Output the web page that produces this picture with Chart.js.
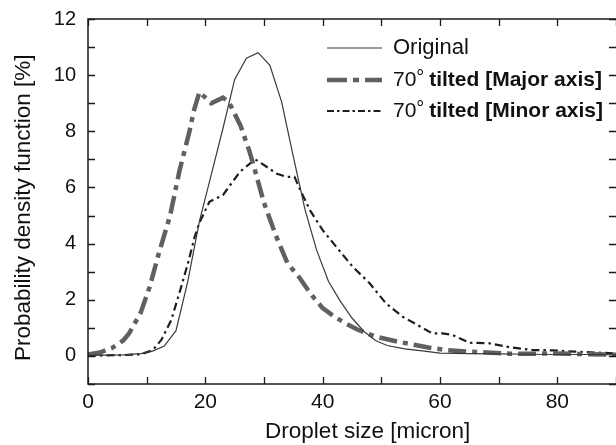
<!DOCTYPE html>
<html><head><meta charset="utf-8">
<script src="https://cdn.jsdelivr.net/npm/chart.js@4/dist/chart.umd.min.js"></script>
<style>html,body{margin:0;padding:0;background:#fff;overflow:hidden}</style>
</head><body>
<canvas id="c" width="616" height="445"></canvas>
<script>
const FONT = '"Liberation Sans",Arial,Helvetica,sans-serif';
const xTitle = 'Droplet size [micron]';
const yTitle = 'Probability density function [%]';
const seriesNames = ['Original', '70° tilted [Major axis]', '70° tilted [Minor axis]'];
const xRange = [0, 90];
const yRange = [-1, 12];

const originalX = [0, 3, 6, 9, 11, 13, 15, 17, 19, 21, 23, 25, 27, 29, 31, 33, 35, 37, 39, 41, 43, 45, 47, 49, 51, 54, 57, 60, 65, 70, 75, 80, 85, 90];
const originalY = [0.02, 0.03, 0.04, 0.08, 0.17, 0.35, 0.9, 2.65, 4.8, 6.45, 8.1, 9.85, 10.6, 10.8, 10.35, 9.05, 7.1, 5.2, 3.75, 2.65, 1.95, 1.35, 0.88, 0.55, 0.37, 0.25, 0.18, 0.1, 0.08, 0.07, 0.06, 0.05, 0.05, 0.04];

const majorX = [0, 2, 4, 6, 7, 9, 10.5, 12, 14, 15.6, 17.3, 18, 19, 21, 23, 24, 26, 27.5, 28, 30, 32, 34, 36, 38, 40, 42, 44, 46, 49, 53, 56, 58, 61, 65, 68, 72, 76, 80, 85, 90];
const majorY = [0.05, 0.12, 0.27, 0.55, 0.8, 1.55, 2.45, 3.6, 5.0, 6.6, 8.0, 8.7, 9.4, 9.0, 9.2, 9.05, 8.2, 7.3, 6.95, 5.45, 4.3, 3.3, 2.8, 2.2, 1.7, 1.4, 1.15, 0.93, 0.69, 0.5, 0.38, 0.3, 0.21, 0.15, 0.12, 0.08, 0.08, 0.09, 0.06, 0.04];

const minorX = [0, 3, 6, 9, 11, 12.5, 14.2, 15.9, 17.1, 18.2, 19, 20.7, 23, 25.9, 28.5, 30, 32.1, 33.8, 35.2, 36.1, 37.8, 40, 42.3, 45.1, 48, 50.8, 53.6, 56, 58.7, 60.4, 62.1, 65, 68.4, 71.8, 75.7, 79.1, 83.1, 88.8, 90];
const minorY = [0.0, 0.02, 0.03, 0.06, 0.2, 0.57, 1.28, 2.47, 3.35, 4.25, 4.75, 5.49, 5.73, 6.56, 7.0, 6.8, 6.5, 6.38, 6.38, 5.95, 5.2, 4.48, 3.89, 3.18, 2.59, 1.87, 1.4, 1.12, 0.8, 0.8, 0.75, 0.47, 0.45, 0.31, 0.21, 0.2, 0.15, 0.1, 0.08];

const pts = (xs, ys) => xs.map((x, i) => ({x, y: ys[i]}));

const frameTicks = {
  id: 'frameTicks',
  afterDatasetsDraw(chart) {
    const {ctx, chartArea: a, scales: {x, y}} = chart;
    ctx.save();
    ctx.strokeStyle = '#1a1a1a';
    ctx.lineWidth = 1.5;
    ctx.strokeRect(a.left, a.top, a.right - a.left + 1, a.bottom - a.top);
    ctx.lineWidth = 1.3;
    const L = 7;
    ctx.beginPath();
    y.ticks.forEach(t => {
      const py = Math.round(y.getPixelForValue(t.value)) + 0.5;
      ctx.moveTo(a.left, py); ctx.lineTo(a.left + L, py);
      ctx.moveTo(a.right, py); ctx.lineTo(a.right - L, py);
    });
    x.ticks.forEach(t => {
      const px = Math.round(x.getPixelForValue(t.value)) + 0.5;
      ctx.moveTo(px, a.bottom); ctx.lineTo(px, a.bottom - L);
      ctx.moveTo(px, a.top); ctx.lineTo(px, a.top + L);
    });
    ctx.stroke();
    ctx.restore();
  }
};

const legendRows = [48, 80, 111];
const customLegend = {
  id: 'customLegend',
  afterDraw(chart) {
    const ctx = chart.ctx;
    chart.data.datasets.forEach((d, i) => {
      const yy = legendRows[i];
      ctx.save();
      ctx.strokeStyle = d.borderColor;
      ctx.lineWidth = d.borderWidth;
      ctx.setLineDash(d.legendDash);
      ctx.beginPath(); ctx.moveTo(327, yy); ctx.lineTo(382, yy); ctx.stroke();
      ctx.setLineDash([]);
      ctx.fillStyle = '#111';
      ctx.textBaseline = 'middle';
      ctx.textAlign = 'left';
      const label = d.label;
      let xx = 393;
      const k = label.indexOf('°');
      if (k < 0) {
        ctx.font = `22px ${FONT}`;
        ctx.fillText(label, xx, yy);
      } else {
        const pre = label.slice(0, k), post = label.slice(k + 1);
        ctx.font = `21px ${FONT}`;
        ctx.fillText(pre, xx, yy);
        xx += ctx.measureText(pre).width;
        ctx.font = `20px ${FONT}`;
        ctx.fillText('°', xx, yy - 2);
        xx += ctx.measureText('°').width - 1;
        ctx.font = `bold 21px ${FONT}`;
        ctx.fillText(post, xx, yy);
      }
      ctx.restore();
    });
  }
};

new Chart(document.getElementById('c'), {
  type: 'line',
  data: {
    datasets: [
      {label: seriesNames[0], data: pts(originalX, originalY), borderColor: '#3a3a3a', borderWidth: 1.2, borderDash: [], legendDash: [], pointRadius: 0, tension: 0, fill: false},
      {label: seriesNames[1], data: pts(majorX, majorY), borderColor: '#606060', borderWidth: 4.5, borderDash: [18, 6, 5, 6], legendDash: [20, 6, 6, 6], pointRadius: 0, tension: 0, fill: false},
      {label: seriesNames[2], data: pts(minorX, minorY), borderColor: '#1e1e1e', borderWidth: 2.2, borderDash: [8, 4, 2.5, 4], legendDash: [7, 3, 2.5, 3], pointRadius: 0, tension: 0, fill: false}
    ]
  },
  options: {
    responsive: false,
    devicePixelRatio: 1,
    animation: false,
    layout: {padding: {top: 19, right: 0, left: 0, bottom: 0}},
    plugins: {legend: {display: false}, tooltip: {enabled: false}},
    scales: {
      x: {
        type: 'linear', min: xRange[0], max: xRange[1],
        grid: {display: false, drawTicks: false, drawOnChartArea: false},
        border: {display: false},
        ticks: {stepSize: 10, autoSkip: false, maxRotation: 0, padding: 6, color: '#111',
          font: {family: FONT, size: 21},
          callback: v => (v % 20 === 0 ? String(v) : '')},
        title: {display: true, text: '     ' + xTitle, color: '#111', font: {family: FONT, size: 22.5}, padding: 0},
        afterFit: s => { s.height = 61; s.paddingLeft = 0; s.paddingRight = 0; }
      },
      y: {
        type: 'linear', min: yRange[0], max: yRange[1],
        grid: {display: false, drawTicks: false, drawOnChartArea: false},
        border: {display: false},
        ticks: {stepSize: 1, autoSkip: false, padding: 12, color: '#111',
          font: {family: FONT, size: 20},
          callback: v => (v % 2 === 0 ? String(v) : '')},
        title: {display: true, text: yTitle + '  ', color: '#111', font: {family: FONT, size: 22.5}, padding: {top: 10, bottom: 0}},
        afterFit: s => { s.width = 88; s.paddingTop = 0; s.paddingBottom = 0; }
      }
    }
  },
  plugins: [frameTicks, customLegend]
});
</script>
</body></html>
